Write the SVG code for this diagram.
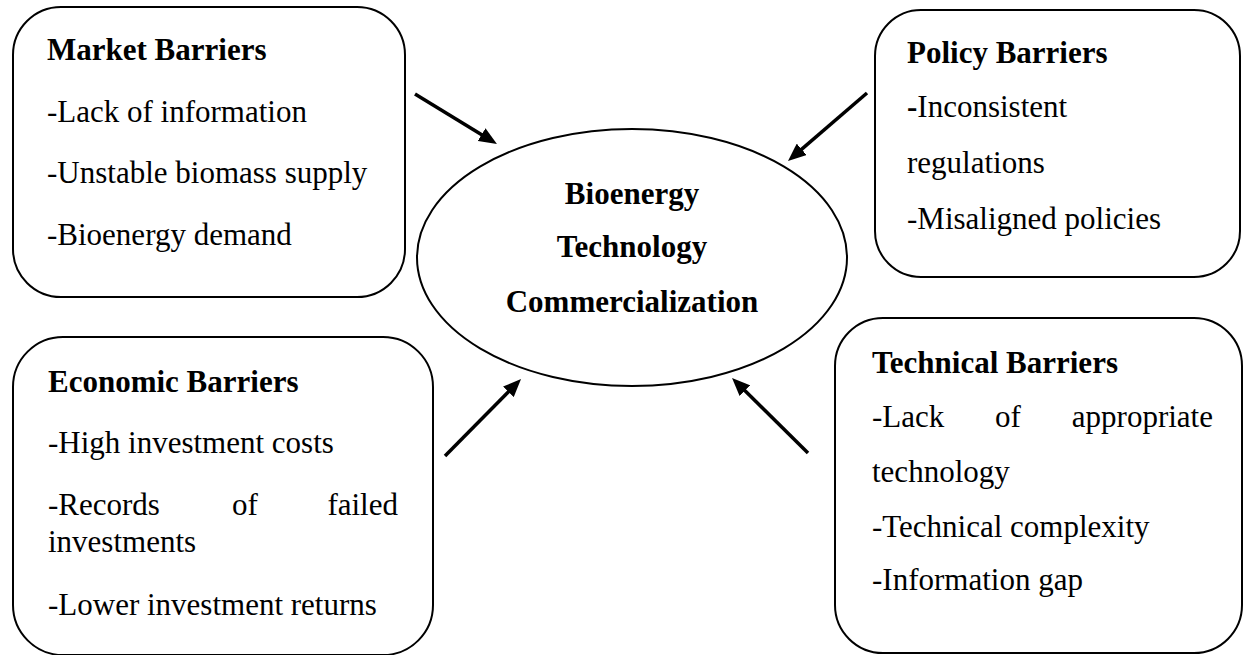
<svg xmlns="http://www.w3.org/2000/svg" width="1244" height="655" viewBox="0 0 1244 655">
<style>
.box{fill:#fff;stroke:#000;stroke-width:2}
.t{font-family:"Liberation Serif","Times New Roman",serif;font-size:31px;fill:#000}
.b{font-weight:bold}
.arr{stroke:#000;stroke-width:3.5;fill:none;marker-end:url(#ah)}
</style>
<defs>
<marker id="ah" markerUnits="userSpaceOnUse" markerWidth="18" markerHeight="15" refX="4" refY="7.5" orient="auto">
<path d="M0,0 L18,7.5 L0,15 z" fill="#000"/>
</marker>
</defs>
<rect width="1244" height="655" fill="#fff"/>
<g id="market">
<rect class="box" x="13" y="7" width="392" height="290" rx="48" ry="48"/>
<text class="t b" x="47" y="60">Market Barriers</text>
<text class="t" x="47" y="122">-Lack of information</text>
<text class="t" x="47" y="183">-Unstable biomass supply</text>
<text class="t" x="47" y="245">-Bioenergy demand</text>
</g>
<g id="policy">
<rect class="box" x="875" y="10" width="365" height="267" rx="46" ry="46"/>
<text class="t b" x="907" y="63">Policy Barriers</text>
<text class="t" x="907" y="117"><tspan class="b">-</tspan>Inconsistent</text>
<text class="t" x="907" y="173">regulations</text>
<text class="t" x="907" y="229">-Misaligned policies</text>
</g>
<g id="economic">
<rect class="box" x="13" y="337" width="420" height="318" rx="50" ry="50"/>
<text class="t b" x="48" y="392">Economic Barriers</text>
<text class="t" x="48" y="453">-High investment costs</text>
<text class="t" x="48" y="515">-Records</text>
<text class="t" x="232" y="515">of</text>
<text class="t" x="398" y="515" text-anchor="end">failed</text>
<text class="t" x="48" y="552">investments</text>
<text class="t" x="48" y="615">-Lower investment returns</text>
</g>
<g id="technical">
<rect class="box" x="835" y="318" width="407" height="335" rx="48" ry="48"/>
<text class="t b" x="872" y="373">Technical Barriers</text>
<text class="t" x="872" y="427">-Lack</text>
<text class="t" x="995" y="427">of</text>
<text class="t" x="1213" y="427" text-anchor="end">appropriate</text>
<text class="t" x="872" y="482">technology</text>
<text class="t" x="872" y="537">-Technical complexity</text>
<text class="t" x="872" y="590">-Information gap</text>
</g>
<g id="center">
<ellipse class="box" cx="632" cy="257.5" rx="215" ry="128.5"/>
<text class="t b" x="632" y="204" text-anchor="middle">Bioenergy</text>
<text class="t b" x="632" y="257" text-anchor="middle">Technology</text>
<text class="t b" x="632" y="312" text-anchor="middle">Commercialization</text>
</g>
<g id="connectors">
<line class="arr" x1="415" y1="94" x2="485" y2="136.7"/>
<line class="arr" x1="867" y1="93" x2="798.6" y2="151.9"/>
<line class="arr" x1="445" y1="456" x2="511.2" y2="389"/>
<line class="arr" x1="808" y1="453" x2="742" y2="387.8"/>
</g>
</svg>
